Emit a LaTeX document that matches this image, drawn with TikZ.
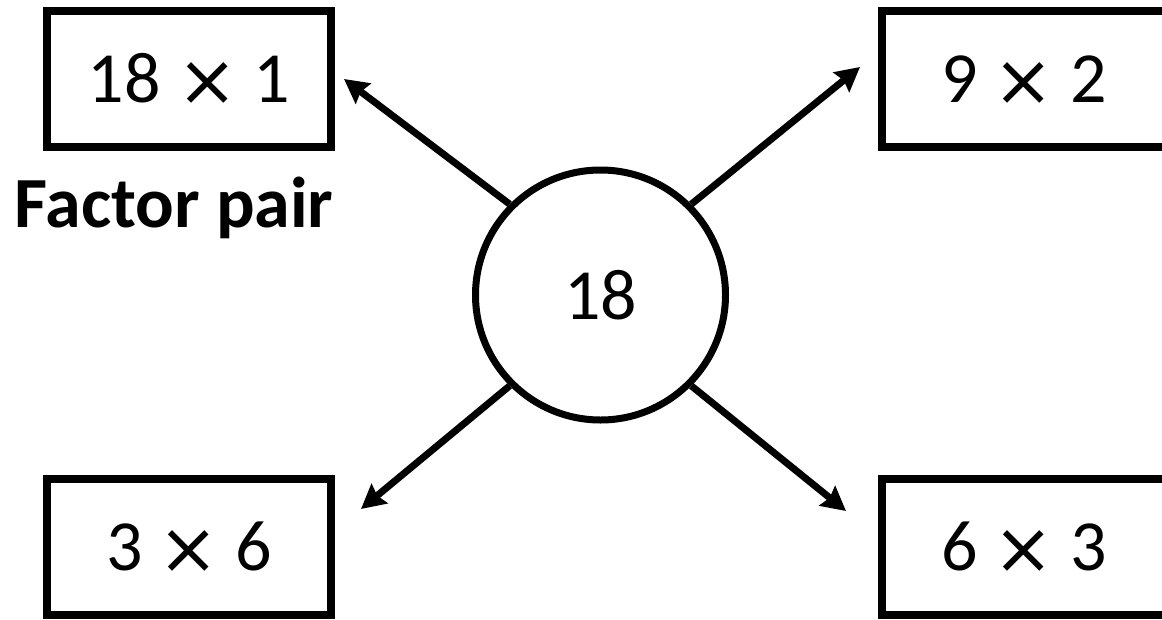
\documentclass[tikz,border=0pt]{standalone}
\usepackage{fontspec}
\setmainfont{Carlito}
\newfontfamily\symfontdj{DejaVu Sans}
\newcommand\timesglyph{\raisebox{-3pt}{\symfontdj ×}}
\usetikzlibrary{arrows.meta}
\begin{document}
\begin{tikzpicture}[x=1pt,y=1pt,
  pairbox/.style={draw=black, line width=8pt, minimum width=284pt, minimum height=136pt, inner sep=0pt, text height=46pt, text depth=0pt, font=\fontsize{72}{80}\selectfont},
  numcircle/.style={draw=black, circle, line width=7pt, minimum size=250pt, inner sep=0pt, font=\fontsize{72}{80}\selectfont},
  arr/.style={line width=7pt, -{Stealth[length=24pt, width=25pt, inset=3pt]}}
]
\useasboundingbox (0,0) rectangle (1162,-619);
\node[pairbox] (b1) at (189,-79) {18 \timesglyph\ 1};
\node[pairbox] (b2) at (1024,-79) {9 \timesglyph\ 2};
\node[pairbox] (b3) at (189,-547) {3 \timesglyph\ 6};
\node[pairbox] (b4) at (1024,-547) {6 \timesglyph\ 3};
\node[numcircle] (c) at (600.5,-295) {18};
\node[anchor=base, font=\fontsize{72}{80}\selectfont\bfseries] (lbl) at (174,-227) {Factor pair};
\coordinate (t1) at (344,-79);
\coordinate (t2) at (860,-67);
\coordinate (t3) at (361,-509);
\coordinate (t4) at (846,-511);
\draw[arr] (c.135) -- (t1);
\draw[arr] (c.45) -- (t2);
\draw[arr] (c.225) -- (t3);
\draw[arr] (c.315) -- (t4);
\end{tikzpicture}
\end{document}
